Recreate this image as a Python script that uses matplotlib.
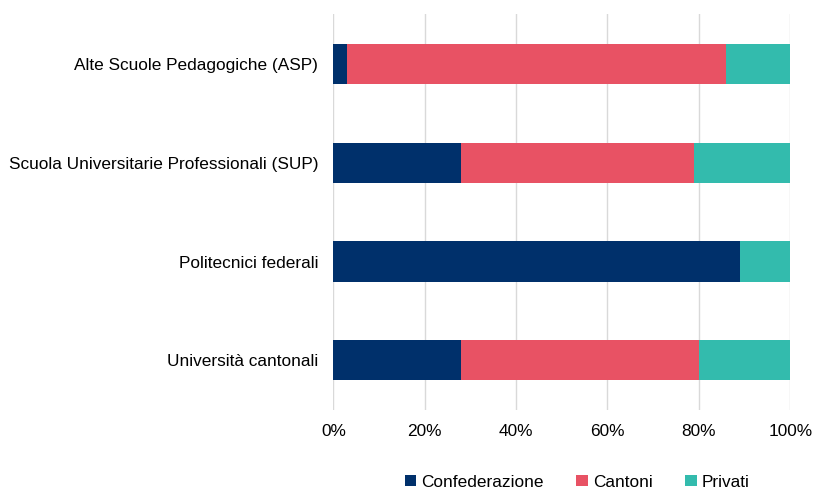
import numpy as np
import matplotlib.pyplot as plt

plt.rcParams['font.family'] = ['Liberation Sans', 'DejaVu Sans']

# Dati (percentuali)
categorie = ["Università cantonali", "Politecnici federali",
             "Scuola Universitarie Professionali (SUP)",
             "Alte Scuole Pedagogiche (ASP)"]
confederazione = [28, 89, 28, 3]
cantoni = [52, 0, 51, 83]
privati = [20, 11, 21, 14]

serie = ["Confederazione", "Cantoni", "Privati"]
colori = ["#00306B", "#E85264", "#33BBAD"]

fig = plt.figure(figsize=(8.13, 4.88), dpi=100)
ax = fig.add_axes([0.41, 0.16, 0.562, 0.811])

y = np.arange(len(categorie))
left = np.zeros(len(categorie))
for nome, vals, col in zip(serie, [confederazione, cantoni, privati], colori):
    ax.barh(y, vals, left=left, height=0.405, color=col, label=nome, zorder=3)
    left += np.array(vals)

ax.set_xlim(0, 100)
ax.set_ylim(-0.5, 3.5)
ax.set_yticks(y)
ax.set_yticklabels(categorie, fontsize=12.4)
ax.set_xticks(np.arange(0, 101, 20))
ax.set_xticklabels([f"{v}%" for v in range(0, 101, 20)], fontsize=12.4)
ax.tick_params(axis='y', length=0, pad=11)
ax.tick_params(axis='x', length=0, pad=10)
ax.grid(axis='x', color='#D9D9D9', linewidth=1, zorder=0)
for s in ax.spines.values():
    s.set_visible(False)

fig.legend(loc='lower center', bbox_to_anchor=(0.71, -0.035), ncol=3, frameon=False,
           fontsize=12.4, handlelength=0.65, handleheight=0.65, handletextpad=0.3,
           columnspacing=1.9)

fig.savefig("out.png", dpi=100)
